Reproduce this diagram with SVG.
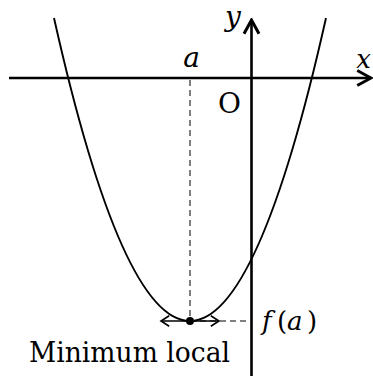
<svg xmlns="http://www.w3.org/2000/svg" width="373" height="376" viewBox="0 0 373 376">
<style>
.axis{stroke:#000;stroke-width:2.6;fill:none}
.curve{stroke:#000;stroke-width:1.9;fill:none}
.dash{stroke:#000;stroke-width:1;stroke-dasharray:6 4;fill:none}
.tan{stroke:#000;stroke-width:1.4;fill:none}
.lbl{font-family:'DejaVu Serif','Liberation Serif',serif;fill:#000}
.it{font-style:italic}
</style>
<defs>
<marker id="axhead" markerUnits="userSpaceOnUse" markerWidth="20" markerHeight="20" viewBox="-14 -8 16 16" refX="0" refY="0" orient="auto">
<path d="M-11 -6 L0 0 L-11 6" fill="none" stroke="#000" stroke-width="2.4" stroke-linejoin="miter"/>
</marker>
<marker id="tanhead" markerUnits="userSpaceOnUse" markerWidth="14" markerHeight="14" viewBox="-9 -6 11 12" refX="0" refY="0" orient="auto-start-reverse">
<path d="M-7 -4.5 L0 0 L-7 4.5" fill="none" stroke="#000" stroke-width="1.4"/>
</marker>
</defs>
<g id="guides">
<line class="dash" x1="190" y1="80" x2="190" y2="321"/>
<line class="dash" x1="190" y1="321" x2="250" y2="321"/>
</g>
<g id="axes">
<line id="x-axis" class="axis" x1="9" y1="78" x2="371" y2="78" marker-end="url(#axhead)"/>
<line id="y-axis" class="axis" x1="251.5" y1="376" x2="251.5" y2="20" marker-end="url(#axhead)"/>
</g>
<g id="curve">
<path class="curve" d="M54 18 Q190 624 326 18"/>
</g>
<g id="tangent">
<line class="tan" x1="161" y1="321" x2="219" y2="321" marker-start="url(#tanhead)" marker-end="url(#tanhead)"/>
<circle cx="190" cy="321" r="4"/>
</g>
<g id="labels">
<text class="lbl it" x="191.5" y="67" font-size="28" text-anchor="middle">a</text>
<text class="lbl it" x="371" y="68" font-size="26" text-anchor="end">x</text>
<text class="lbl it" x="225" y="26" font-size="28">y</text>
<text class="lbl" x="218" y="113" font-size="28">O</text>
<text class="lbl" y="330" font-size="26"><tspan class="it" x="262">f</tspan><tspan x="277">(</tspan><tspan class="it" x="287">a</tspan><tspan x="307">)</tspan></text>
<text class="lbl" x="29" y="362" font-size="28" textLength="201" lengthAdjust="spacingAndGlyphs">Minimum local</text>
</g>
</svg>
